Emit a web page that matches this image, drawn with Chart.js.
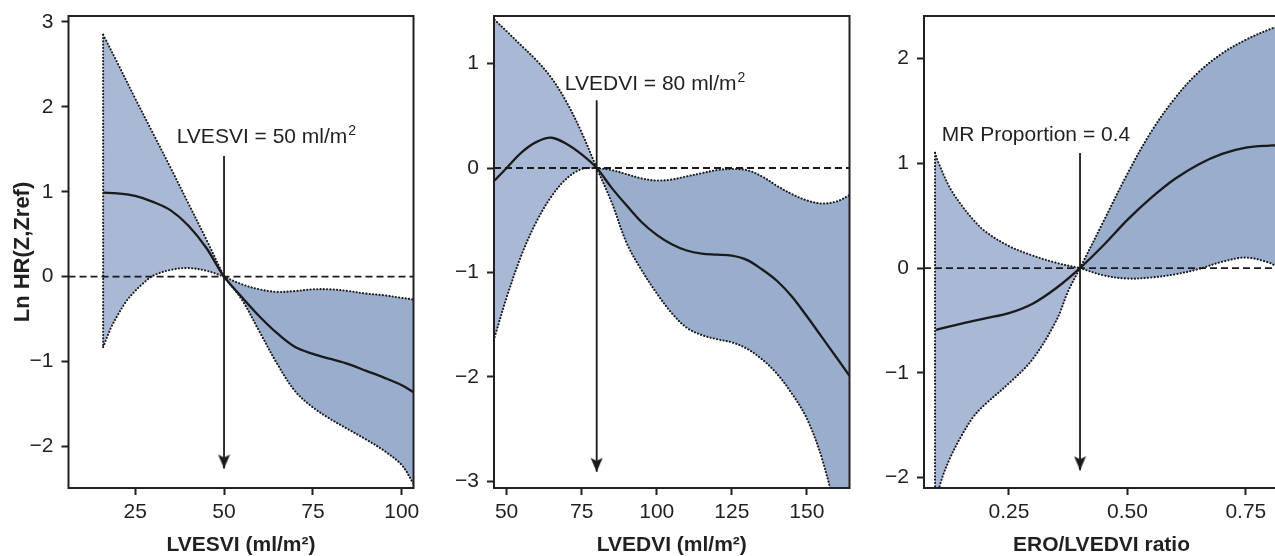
<!DOCTYPE html>
<html>
<head>
<meta charset="utf-8">
<script src="https://cdn.jsdelivr.net/npm/chart.js@4"></script>
<style>
html, body { margin: 0; padding: 0; background: #fff; overflow: hidden; width: 1275px; height: 556px; }
body { position: relative; }
canvas { position: absolute; top: 0; }
</style>
</head>
<body>
<canvas id="esvChart" width="425" height="556" style="left:0"></canvas>
<canvas id="edvChart" width="430" height="556" style="left:430px"></canvas>
<canvas id="eroChart" width="440" height="556" style="left:860px"></canvas>
<script>
// ---- panel 1: LVESVI ----
var esvFitX = [16, 20, 25, 30, 35, 40, 45, 50, 55, 60, 65, 70, 75, 80, 85, 90, 95, 100, 103.3];
var esvFitY = [0.99, 0.98, 0.95, 0.88, 0.78, 0.60, 0.34, 0, -0.24, -0.47, -0.67, -0.83, -0.91, -0.97, -1.03, -1.11, -1.19, -1.28, -1.36];
var esvUpLX = [16, 20, 25, 30, 35, 40, 45, 50];
var esvUpLY = [2.85, 2.52, 2.10, 1.69, 1.28, 0.86, 0.44, 0];
var esvLoLX = [16, 18, 20, 22.5, 25, 27.5, 30, 35, 40, 45, 50];
var esvLoLY = [-0.83, -0.62, -0.46, -0.29, -0.17, -0.07, 0.01, 0.08, 0.10, 0.07, 0];
var esvUpRX = [50, 55, 60, 65, 70, 75, 80, 85, 90, 95, 100, 103.3];
var esvUpRY = [0, -0.09, -0.15, -0.18, -0.17, -0.15, -0.15, -0.17, -0.20, -0.22, -0.25, -0.27];
var esvLoRX = [50, 55, 60, 65, 70, 75, 80, 85, 90, 95, 100, 103.3];
var esvLoRY = [0, -0.27, -0.65, -1.03, -1.35, -1.54, -1.68, -1.80, -1.92, -2.05, -2.22, -2.44];
var esvXTicks = [25, 50, 75, 100];
var esvYTicks = [-2, -1, 0, 1, 2, 3];

// ---- panel 2: LVEDVI ----
var edvFitX = [46, 50, 55, 60, 65, 70, 75, 80, 85, 90, 95, 100, 105, 110, 115, 120, 125, 130, 135, 140, 145, 150, 155, 160, 164.2];
var edvFitY = [-0.12, 0.0, 0.15, 0.25, 0.29, 0.23, 0.13, 0, -0.19, -0.36, -0.52, -0.64, -0.73, -0.79, -0.82, -0.83, -0.84, -0.88, -0.97, -1.08, -1.23, -1.42, -1.62, -1.82, -1.99];
var edvUpLX = [46, 50, 55, 60, 65, 70, 75, 80];
var edvUpLY = [1.42, 1.31, 1.17, 1.03, 0.86, 0.63, 0.34, 0];
var edvLoLX = [46, 50, 55, 60, 65, 70, 75, 80];
var edvLoLY = [-1.62, -1.24, -0.83, -0.51, -0.27, -0.10, -0.01, 0];
var edvUpRX = [80, 85, 90, 95, 100, 105, 110, 115, 120, 125, 130, 135, 140, 145, 150, 155, 160, 164.2];
var edvUpRY = [0, -0.02, -0.06, -0.10, -0.12, -0.11, -0.08, -0.05, -0.02, -0.01, -0.02, -0.08, -0.17, -0.25, -0.31, -0.34, -0.32, -0.26];
var edvLoRX = [80, 85, 90, 95, 100, 105, 110, 115, 120, 125, 130, 135, 140, 145, 150, 155, 160, 164.2];
var edvLoRY = [0, -0.33, -0.72, -0.98, -1.20, -1.39, -1.53, -1.60, -1.64, -1.67, -1.73, -1.83, -1.97, -2.16, -2.40, -2.78, -3.35, -4.0];
var edvXTicks = [50, 75, 100, 125, 150];
var edvYTicks = [-3, -2, -1, 0, 1];

// ---- panel 3: ERO/LVEDVI ratio ----
var eroFitX = [0.096, 0.15, 0.20, 0.25, 0.30, 0.35, 0.40, 0.45, 0.50, 0.55, 0.60, 0.65, 0.70, 0.75, 0.80, 0.82];
var eroFitY = [-0.59, -0.53, -0.48, -0.43, -0.34, -0.19, 0, 0.22, 0.46, 0.67, 0.85, 0.99, 1.09, 1.15, 1.17, 1.17];
var eroUpLX = [0.094, 0.10, 0.125, 0.15, 0.175, 0.20, 0.25, 0.30, 0.35, 0.40];
var eroUpLY = [1.10, 1.02, 0.77, 0.60, 0.46, 0.35, 0.21, 0.12, 0.05, 0];
var eroLoLX = [0.094, 0.105, 0.125, 0.15, 0.175, 0.20, 0.25, 0.30, 0.35, 0.375, 0.40];
var eroLoLY = [-2.30, -2.06, -1.82, -1.60, -1.42, -1.30, -1.10, -0.87, -0.50, -0.22, 0];
var eroUpRX = [0.40, 0.45, 0.50, 0.55, 0.60, 0.65, 0.70, 0.75, 0.80, 0.82];
var eroUpRY = [0, 0.45, 0.90, 1.30, 1.62, 1.87, 2.05, 2.18, 2.28, 2.31];
var eroLoRX = [0.40, 0.45, 0.50, 0.55, 0.60, 0.65, 0.70, 0.75, 0.80, 0.82];
var eroLoRY = [0, -0.07, -0.10, -0.09, -0.06, -0.01, 0.06, 0.10, 0.05, 0.00];
var eroXTicks = [0.25, 0.50, 0.75];
var eroYTicks = [-2, -1, 0, 1, 2];

var ink = '#231f20';
var fontFam = '"Liberation Sans", Arial, Helvetica, sans-serif';

function pts(xs, ys) {
    return xs.map(function (x, i) { return {x: x, y: ys[i]}; });
}

function minusFmt(v) {
    return v < 0 ? '\u2212' + Math.abs(v) : String(v);
}

// arrow head used as point style, tip sits at the image centre
var arrowImg = document.createElement('canvas');
arrowImg.width = 13;
arrowImg.height = 30;
(function () {
    var c = arrowImg.getContext('2d');
    c.fillStyle = '#1a1a1a';
    c.beginPath();
    c.moveTo(0.5, 1);
    c.lineTo(6.5, 4);
    c.lineTo(12.5, 1);
    c.lineTo(6.5, 15);
    c.closePath();
    c.fill();
})();

var notePlugin = {
    id: 'note',
    afterDatasetsDraw: function (chart, args, opts) {
        var ctx = chart.ctx, a = chart.chartArea;
        ctx.save();
        ctx.strokeStyle = ink;
        ctx.lineWidth = 2;
        ctx.strokeRect(a.left, a.top, a.right - a.left, a.bottom - a.top);
        var px = chart.scales.x.getPixelForValue(opts.x);
        var py = chart.scales.y.getPixelForValue(opts.y);
        ctx.fillStyle = ink;
        ctx.textBaseline = 'alphabetic';
        ctx.textAlign = 'left';
        ctx.font = '21px ' + fontFam;
        ctx.fillText(opts.text, px, py);
        if (opts.sup) {
            var w = ctx.measureText(opts.text).width;
            ctx.font = '14px ' + fontFam;
            ctx.fillText(opts.sup, px + w + 1, py - 8);
        }
        ctx.restore();
    }
};

function makePanel(id, o) {
    var dot = {
        borderColor: '#1a1a1a', borderWidth: 2.1, borderDash: [0.1, 3.2], borderCapStyle: 'round',
        pointRadius: 0, tension: 0.35, fill: false
    };
    var datasets = [
        Object.assign({}, dot, {data: pts(o.upL[0], o.upL[1]), fill: '+1', backgroundColor: '#a9b8d5'}),
        Object.assign({}, dot, {data: pts(o.loL[0], o.loL[1])}),
        Object.assign({}, dot, {data: pts(o.upR[0], o.upR[1]), fill: '+1', backgroundColor: '#99adcd'}),
        Object.assign({}, dot, {data: pts(o.loR[0], o.loR[1])})
    ];
    if (o.edge) {
        datasets.push(Object.assign({}, dot, {data: pts([o.edge[0], o.edge[0]], [o.edge[1], o.edge[2]]), tension: 0}));
    }
    datasets.push({
        data: pts([o.xMin, o.xMax], [0, 0]), borderColor: '#1a1a1a', borderWidth: 1.8,
        borderDash: [7, 4], pointRadius: 0, fill: false
    });
    datasets.push({
        data: pts(o.fit[0], o.fit[1]), borderColor: '#1a1a1a', borderWidth: 2.3,
        pointRadius: 0, tension: 0.35, fill: false
    });
    datasets.push({
        data: pts([o.arrow[0], o.arrow[0]], [o.arrow[1], o.arrow[2]]), borderColor: '#1a1a1a', borderWidth: 1.8,
        pointRadius: [0, 5], pointStyle: ['circle', arrowImg], fill: false
    });

    new Chart(document.getElementById(id), {
        type: 'line',
        data: {datasets: datasets},
        plugins: [notePlugin],
        options: {
            responsive: false,
            animation: false,
            devicePixelRatio: 1,
            layout: {padding: {top: 16, right: o.padRight, bottom: 0, left: 0}},
            plugins: {
                legend: {display: false},
                tooltip: {enabled: false},
                filler: {drawTime: 'beforeDatasetsDraw'},
                note: o.note
            },
            scales: {
                x: {
                    type: 'linear',
                    min: o.xMin,
                    max: o.xMax,
                    afterBuildTicks: function (scale) {
                        scale.ticks = o.xTicks.map(function (v) { return {value: v}; });
                    },
                    afterFit: function (scale) {
                        scale.height = 68;
                        scale.paddingLeft = 0;
                        scale.paddingRight = 0;
                    },
                    border: {display: false},
                    grid: {drawOnChartArea: false, drawTicks: true, tickLength: 7, tickWidth: 2, tickColor: ink},
                    ticks: {
                        padding: 5, color: ink, maxRotation: 0,
                        font: {family: fontFam, size: 21},
                        callback: o.xFmt
                    },
                    title: {
                        display: true, text: o.xTitle, color: ink,
                        font: {family: fontFam, size: 21, weight: 'bold', lineHeight: 1},
                        padding: {top: 0, bottom: 0}
                    }
                },
                y: {
                    type: 'linear',
                    min: o.yMin,
                    max: o.yMax,
                    afterBuildTicks: function (scale) {
                        scale.ticks = o.yTicks.map(function (v) { return {value: v}; });
                    },
                    afterFit: function (scale) {
                        scale.width = o.yWidth;
                        scale.paddingTop = 0;
                        scale.paddingBottom = 0;
                    },
                    border: {display: false},
                    grid: {drawOnChartArea: false, drawTicks: true, tickLength: 7, tickWidth: 2, tickColor: ink},
                    ticks: {
                        padding: 8, color: ink,
                        font: {family: fontFam, size: 21},
                        callback: minusFmt
                    },
                    title: {
                        display: !!o.yTitle, text: o.yTitle || '', color: ink,
                        font: {family: fontFam, size: 22, weight: 'bold', lineHeight: 1},
                        padding: {top: 12, bottom: 0}
                    }
                }
            }
        }
    });
}

makePanel('esvChart', {
    fit: [esvFitX, esvFitY], upL: [esvUpLX, esvUpLY], loL: [esvLoLX, esvLoLY],
    upR: [esvUpRX, esvUpRY], loR: [esvLoRX, esvLoRY],
    edge: [16, 2.85, -0.83], arrow: [50, 1.42, -2.26],
    xMin: 6.25, xMax: 103.3, yMin: -2.49, yMax: 3.07,
    xTicks: esvXTicks, yTicks: esvYTicks, yWidth: 68.5, padRight: 11.5,
    xTitle: 'LVESVI (ml/m\u00b2)', yTitle: 'Ln HR(Z,Zref)',
    xFmt: function (v) { return String(v); },
    note: {x: 36.7, y: 1.575, text: 'LVESVI = 50 ml/m', sup: '2'}
});

makePanel('edvChart', {
    fit: [edvFitX, edvFitY], upL: [edvUpLX, edvUpLY], loL: [edvLoLX, edvLoLY],
    upR: [edvUpRX, edvUpRY], loR: [edvLoRX, edvLoRY],
    edge: null, arrow: [80, 0.65, -2.91],
    xMin: 45.8, xMax: 164.2, yMin: -3.065, yMax: 1.456,
    xTicks: edvXTicks, yTicks: edvYTicks, yWidth: 64, padRight: 10.5,
    xTitle: 'LVEDVI (ml/m\u00b2)', yTitle: null,
    xFmt: function (v) { return String(v); },
    note: {x: 69.4, y: 0.744, text: 'LVEDVI = 80 ml/m', sup: '2'}
});

makePanel('eroChart', {
    fit: [eroFitX, eroFitY], upL: [eroUpLX, eroUpLY], loL: [eroLoLX, eroLoLY],
    upR: [eroUpRX, eroUpRY], loR: [eroLoRX, eroLoRY],
    edge: [0.094, 1.10, -2.30], arrow: [0.40, 1.10, -1.93],
    xMin: 0.0707, xMax: 0.82, yMin: -2.10, yMax: 2.407,
    xTicks: eroXTicks, yTicks: eroYTicks, yWidth: 64, padRight: 21,
    xTitle: 'ERO/LVEDVI ratio', yTitle: null,
    xFmt: function (v) { return v.toFixed(2); },
    note: {x: 0.108, y: 1.21, text: 'MR Proportion = 0.4', sup: null}
});
</script>
</body>
</html>
